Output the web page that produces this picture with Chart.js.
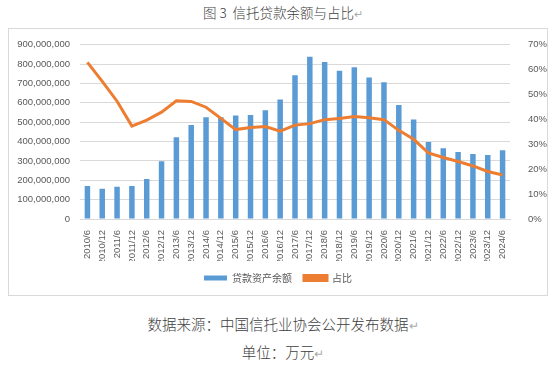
<!DOCTYPE html>
<html>
<head>
<meta charset="utf-8">
<script src="https://cdn.jsdelivr.net/npm/chart.js@4"></script>
<style>
  body { margin: 0; width: 550px; height: 366px; background: #fff; position: relative; overflow: hidden;
    font-family: "Noto Sans CJK SC", sans-serif; color: #404040; }
  .cap { position: absolute; left: 0; width: 566px; text-align: center; white-space: nowrap; font-weight: 300; }
  .mk { color: #aaa; font-size: 0.8em; }
  #box { position: absolute; left: 8px; top: 28px; width: 538px; height: 266px; border: 1px solid #d9d9d9; }
  #wrap { position: absolute; left: 9px; top: 29px; width: 538px; height: 266px; }
</style>
</head>
<body>
<div class="cap" style="top:2px;font-size:13.5px;">图 3&nbsp; 信托贷款余额与占比<span class="mk">↵</span></div>
<div id="box"></div>
<div id="wrap"><canvas id="chart"></canvas></div>
<div class="cap" style="top:313px;font-size:14.5px;">数据来源：中国信托业协会公开发布数据<span class="mk">↵</span></div>
<div class="cap" style="top:341px;font-size:14.5px;">单位：万元<span class="mk">↵</span></div>
<script>
const periods = ["2010/6","2010/12","2011/6","2011/12","2012/6","2012/12","2013/6","2013/12",
  "2014/6","2014/12","2015/6","2015/12","2016/6","2016/12","2017/6","2017/12","2018/6","2018/12",
  "2019/6","2019/12","2020/6","2020/12","2021/6","2021/12","2022/6","2022/12","2023/6","2023/12","2024/6"];

// 贷款资产余额（万元）
const loanBalance = [171e6,156e6,166e6,171e6,207e6,298e6,422e6,485e6,
  526e6,525e6,535e6,537e6,562e6,617e6,742e6,838e6,811e6,766e6,
  783e6,730e6,706e6,588e6,514e6,398e6,365e6,346e6,336e6,331e6,355e6];

// 占比（%）
const loanShare = [62.9,55.3,47.3,37.3,39.7,42.9,47.5,47.2,
  44.9,40.4,35.9,36.7,37.1,35.3,37.7,38.3,39.9,40.4,
  41.2,40.7,39.9,35.6,32.0,26.5,24.7,23.1,21.3,19.1,17.7];

const tickFont = { family: "Liberation Sans, Arial, sans-serif", size: 9.5 };
const tickColor = "#595959";

new Chart(document.getElementById("chart"), {
  data: {
    labels: periods,
    datasets: [
      {
        type: "line",
        label: "占比",
        data: loanShare,
        yAxisID: "y1",
        borderColor: "#ED7D31",
        backgroundColor: "#ED7D31",
        borderWidth: 3,
        pointRadius: 0,
        tension: 0,
        order: 0,
      },
      {
        type: "bar",
        label: "贷款资产余额",
        data: loanBalance,
        yAxisID: "y",
        backgroundColor: "#5B9BD5",
        barPercentage: 0.37,
        categoryPercentage: 1,
        order: 1,
      },
    ],
  },
  options: {
    responsive: true,
    maintainAspectRatio: false,
    animation: false,
    layout: { padding: { top: 7, bottom: 2 } },
    plugins: {
      tooltip: { enabled: false },
      legend: {
        position: "bottom",
        reverse: true,
        labels: {
          boxWidth: 23,
          boxHeight: 5,
          padding: 12,
          color: tickColor,
          font: { family: "Noto Sans CJK SC, sans-serif", size: 10 },
        },
      },
    },
    scales: {
      x: {
        grid: { display: false },
        border: { color: "#d9d9d9" },
        ticks: { color: tickColor, font: tickFont, minRotation: 90, maxRotation: 90, autoSkip: false, padding: 3 },
        afterFit: (s) => { s.height = 42; },
      },
      y: {
        position: "left",
        min: 0,
        max: 900e6,
        border: { display: false },
        grid: { color: "#d9d9d9", drawTicks: false },
        ticks: {
          stepSize: 100e6,
          color: tickColor,
          font: tickFont,
          padding: 10,
          callback: (v) => v.toLocaleString("en-US"),
        },
        afterFit: (s) => { s.width = 71; },
      },
      y1: {
        position: "right",
        min: 0,
        max: 70,
        border: { display: false },
        grid: { display: false },
        ticks: { stepSize: 10, color: tickColor, font: tickFont, padding: 10, callback: (v) => v + "%" },
        afterFit: (s) => { s.width = 37; },
      },
    },
  },
});
</script>
</body>
</html>
